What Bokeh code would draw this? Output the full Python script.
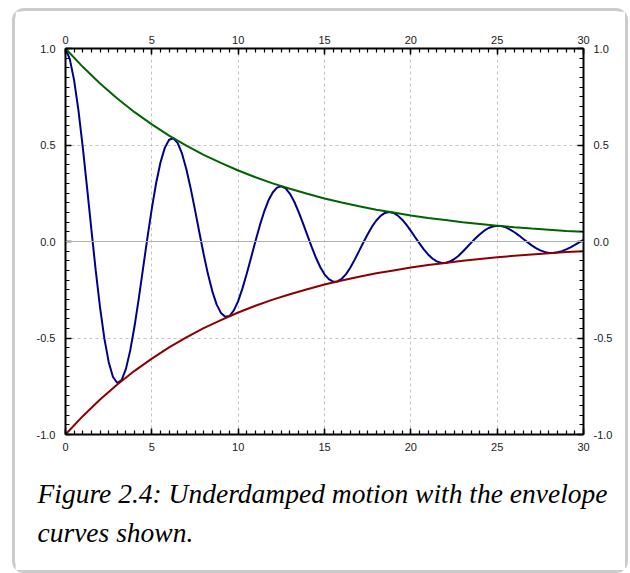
from bokeh.plotting import figure
from bokeh.models import LinearAxis, FixedTicker, PrintfTickFormatter, Span, Title
from bokeh.embed import file_html
from bokeh.resources import INLINE

# ---- data (t, displacement) ----
t = [0.0, 0.25, 0.5, 0.75, 1.0, 1.25, 1.5, 1.75, 2.0, 2.25, 2.5, 2.75, 3.0, 3.25, 3.5, 3.75,
     4.0, 4.25, 4.5, 4.75, 5.0, 5.25, 5.5, 5.75, 6.0, 6.25, 6.5, 6.75, 7.0, 7.25, 7.5, 7.75,
     8.0, 8.25, 8.5, 8.75, 9.0, 9.25, 9.5, 9.75, 10.0, 10.25, 10.5, 10.75, 11.0, 11.25, 11.5, 11.75,
     12.0, 12.25, 12.5, 12.75, 13.0, 13.25, 13.5, 13.75, 14.0, 14.25, 14.5, 14.75, 15.0, 15.25, 15.5, 15.75,
     16.0, 16.25, 16.5, 16.75, 17.0, 17.25, 17.5, 17.75, 18.0, 18.25, 18.5, 18.75, 19.0, 19.25, 19.5, 19.75,
     20.0, 20.25, 20.5, 20.75, 21.0, 21.25, 21.5, 21.75, 22.0, 22.25, 22.5, 22.75, 23.0, 23.25, 23.5, 23.75,
     24.0, 24.25, 24.5, 24.75, 25.0, 25.25, 25.5, 25.75, 26.0, 26.25, 26.5, 26.75, 27.0, 27.25, 27.5, 27.75,
     28.0, 28.25, 28.5, 28.75, 29.0, 29.25, 29.5, 29.75, 30.0]

displacement = [
    1.000, 0.945, 0.835, 0.679, 0.489, 0.278, 0.061, -0.150, -0.341, -0.502, -0.624, -0.702, -0.733,
    -0.718, -0.660, -0.564, -0.438, -0.292, -0.134, 0.023, 0.172, 0.303, 0.409, 0.485, 0.527, 0.535,
    0.510, 0.455, 0.374, 0.275, 0.164, 0.048, -0.065, -0.169, -0.257, -0.326, -0.370, -0.390, -0.386,
    -0.357, -0.309, -0.243, -0.166, -0.083, 0.001, 0.082, 0.153, 0.212, 0.254, 0.279, 0.286,
    0.275, 0.247, 0.206, 0.154, 0.095, 0.034, -0.027, -0.083, -0.132, -0.170, -0.195, -0.208, -0.207,
    -0.193, -0.169, -0.135, -0.094, -0.050, -0.005, 0.038, 0.077, 0.109, 0.133, 0.148, 0.153,
    0.148, 0.134, 0.113, 0.086, 0.055, 0.022, -0.010, -0.041, -0.067, -0.088, -0.103, -0.110, -0.111,
    -0.104, -0.092, -0.075, -0.053, -0.030, -0.006, 0.017, 0.038, 0.056, 0.070, 0.078, 0.081,
    0.080, 0.073, 0.062, 0.048, 0.032, 0.014, -0.003, -0.020, -0.034, -0.046, -0.054, -0.059, -0.059,
    -0.056, -0.050, -0.041, -0.030, -0.018, -0.005, 0.008]

t_env = [0, 1, 2, 3, 4, 5, 6, 7, 8, 9, 10, 11, 12, 13, 14, 15, 16, 17, 18, 19, 20,
         21, 22, 23, 24, 25, 26, 27, 28, 29, 30]
env_upper = [1.000, 0.905, 0.819, 0.741, 0.670, 0.607, 0.549, 0.497, 0.449, 0.407, 0.368,
             0.333, 0.301, 0.273, 0.247, 0.223, 0.202, 0.183, 0.165, 0.150, 0.135,
             0.122, 0.111, 0.100, 0.091, 0.082, 0.074, 0.067, 0.061, 0.055, 0.050]
env_lower = [-1.000, -0.905, -0.819, -0.741, -0.670, -0.607, -0.549, -0.497, -0.449, -0.407, -0.368,
             -0.333, -0.301, -0.273, -0.247, -0.223, -0.202, -0.183, -0.165, -0.150, -0.135,
             -0.122, -0.111, -0.100, -0.091, -0.082, -0.074, -0.067, -0.061, -0.055, -0.050]

x_ticks = [0, 5, 10, 15, 20, 25, 30]
y_ticks = [-1.0, -0.5, 0.0, 0.5, 1.0]
caption_lines = ["Figure 2.4: Underdamped motion with the envelope", "curves shown."]

# ---- figure ----
p = figure(frame_width=518, frame_height=386, x_range=(0, 30), y_range=(-1, 1),
           output_backend="svg", toolbar_location=None,
           min_border_left=50, min_border_right=42, min_border_top=37, min_border_bottom=136,
           background_fill_color="white", border_fill_color="white")
p.outline_line_color = None
p.margin = (8, 0, 0, 12)
p.styles = {"border": "3px solid #cbcbcb", "border-radius": "12px"}

p.add_layout(LinearAxis(), "above")
p.add_layout(LinearAxis(), "right")

x_minor = [i * 0.5 for i in range(61)]
y_minor = [-1 + i * 0.05 for i in range(41)]
xt = FixedTicker(ticks=x_ticks, minor_ticks=x_minor)
yt = FixedTicker(ticks=y_ticks, minor_ticks=y_minor)

for ax in list(p.xaxis) + list(p.yaxis):
    ax.axis_line_color = "black"
    ax.axis_line_width = 2
    ax.major_tick_line_color = "black"
    ax.major_tick_line_width = 1.5
    ax.minor_tick_line_color = "black"
    ax.minor_tick_line_width = 1.2
    ax.major_tick_in = 6
    ax.major_tick_out = 0
    ax.minor_tick_in = 4
    ax.minor_tick_out = 0
    ax.major_label_text_font = "Liberation Sans"
    ax.major_label_text_font_size = "11px"
    ax.major_label_text_color = "#1a1a1a"

for ax in p.xaxis:
    ax.ticker = xt
for ax in p.yaxis:
    ax.ticker = yt
    ax.formatter = PrintfTickFormatter(format="%.1f")
    ax.major_label_standoff = 10

p.below[0].major_label_standoff = 8
p.above[0].major_label_standoff = 5

p.xgrid.ticker = xt
p.ygrid.ticker = yt
for g in list(p.xgrid) + list(p.ygrid):
    g.grid_line_color = "#c4c4c4"
    g.grid_line_dash = "3 3"
    g.grid_line_width = 1

p.add_layout(Span(location=0, dimension="width", line_color="#b0b0b0", line_width=1.2))

p.line(t, displacement, line_color="#00008b", line_width=2)
p.line(t_env, env_upper, line_color="#006400", line_width=2)
p.line(t_env, env_lower, line_color="#8b0000", line_width=2)

for i, line in enumerate(caption_lines):
    p.add_layout(Title(text=line, align="left", offset=-28, standoff=44 if i == 0 else -34,
                       text_font="Liberation Serif", text_font_style="italic",
                       text_font_size="27.5px", text_color="black"), "below")

open("out.html", "w").write(file_html(p, INLINE))
